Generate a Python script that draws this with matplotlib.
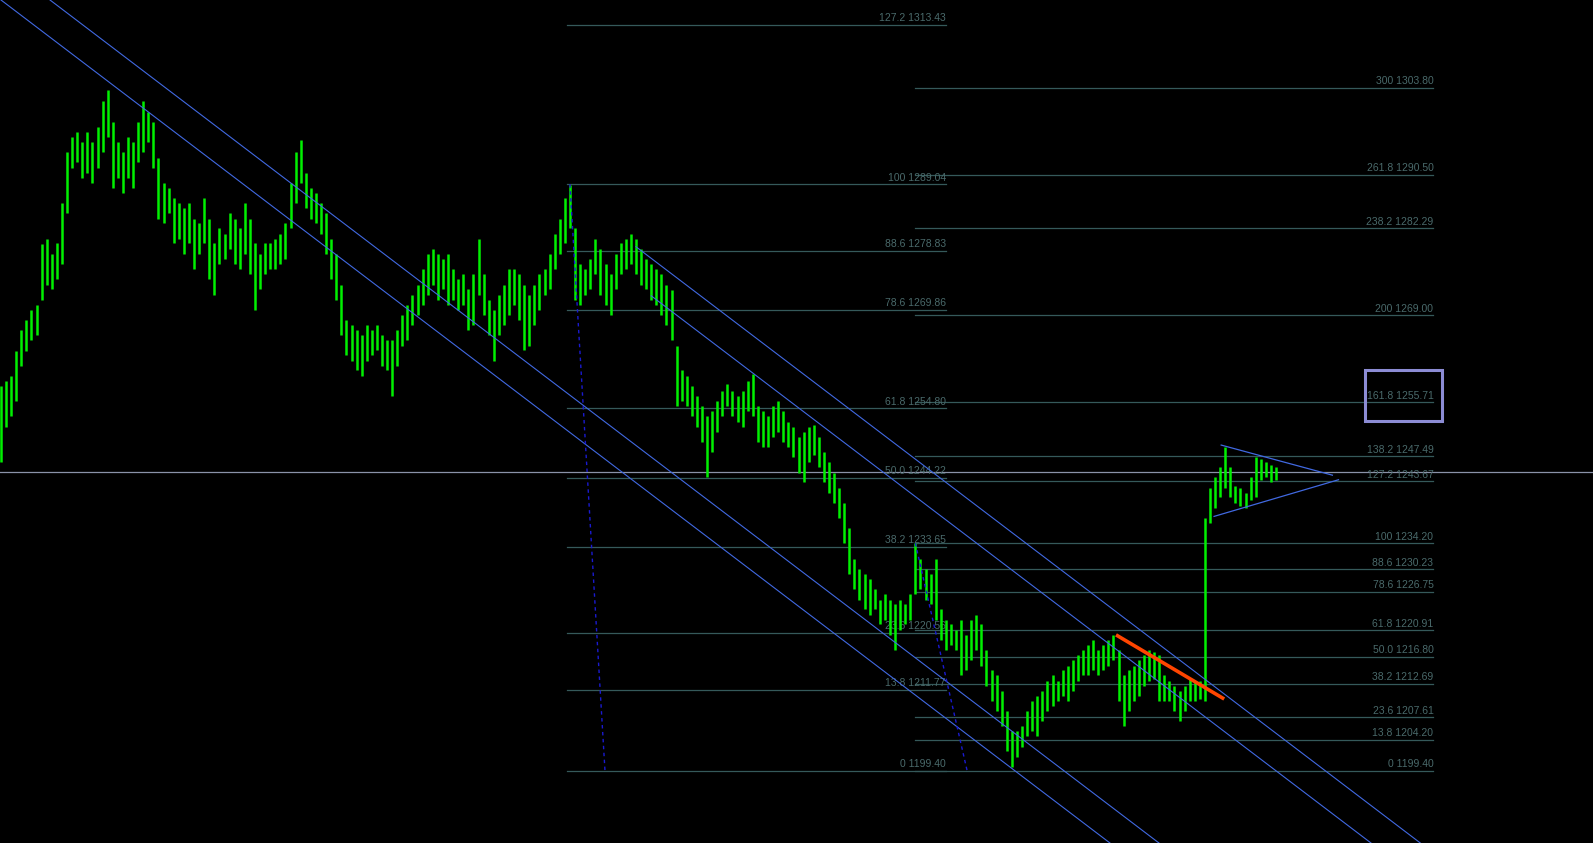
# 1. Import bibliotek
import matplotlib
matplotlib.use('Agg')
import matplotlib.pyplot as plt
from matplotlib.patches import Rectangle

# 2. Dane - slupki (high / low), kolejne swiece od lewej
highs = [
    1258.2, 1259.0, 1259.8, 1263.6, 1266.8, 1268.3, 1269.9, 1270.6, 1279.9, 1280.7,
    1278.4, 1280.0, 1286.2, 1293.9, 1296.2, 1297.0, 1295.5, 1297.0, 1295.5, 1297.8,
    1301.7, 1303.5, 1298.6, 1295.5, 1293.9, 1296.2, 1295.5, 1298.6, 1301.7, 1300.1,
    1298.6, 1293.1, 1289.3, 1288.5, 1287.0, 1286.2, 1285.4, 1286.2, 1283.8, 1283.1,
    1286.9, 1283.8, 1280.0, 1282.3, 1281.5, 1284.6, 1283.8, 1282.3, 1286.2, 1283.8,
    1280.0, 1278.4, 1280.0, 1280.0, 1280.7, 1281.5, 1283.1, 1289.3, 1293.9, 1295.8,
    1290.8, 1288.5, 1287.7, 1286.2, 1284.6, 1280.7, 1278.4, 1273.7, 1268.3, 1267.5,
    1266.8, 1266.0, 1267.5, 1266.8, 1267.5, 1266.0, 1265.2, 1265.2, 1266.8, 1269.1,
    1270.6, 1272.2, 1273.7, 1276.1, 1278.4, 1279.2, 1278.4, 1277.6, 1278.4, 1276.1,
    1274.5, 1275.3, 1273.0, 1275.3, 1280.7, 1275.3, 1271.4, 1269.9, 1272.2, 1273.7,
    1276.1, 1276.1, 1275.3, 1273.7, 1272.2, 1273.7, 1275.3, 1276.1, 1278.4, 1281.5,
    1283.8, 1286.9, 1288.9, 1282.3, 1276.9, 1276.1, 1277.6, 1280.7, 1279.2, 1276.9,
    1275.3, 1278.4, 1280.0, 1280.7, 1281.5, 1280.7, 1279.2, 1277.6, 1276.9, 1276.1,
    1275.3, 1273.7, 1272.9, 1264.4, 1260.6, 1259.8, 1258.2, 1256.7, 1255.1, 1253.6,
    1254.4, 1255.9, 1257.5, 1258.5, 1257.5, 1256.7, 1257.5, 1259.0, 1260.1, 1255.1,
    1254.4, 1253.6, 1255.1, 1255.9, 1254.4, 1252.8, 1252.0, 1250.5, 1251.2, 1252.0,
    1252.3, 1250.5, 1248.1, 1246.6, 1245.0, 1242.7, 1240.4, 1236.5, 1231.8, 1230.3,
    1229.5, 1228.7, 1227.2, 1225.6, 1226.4, 1225.6, 1224.9, 1225.6, 1224.9, 1226.4,
    1234.2, 1231.8, 1230.3, 1229.5, 1231.8, 1224.1, 1222.5, 1221.8, 1221.0, 1222.5,
    1220.2, 1222.5, 1223.3, 1221.8, 1217.9, 1214.8, 1214.0, 1211.7, 1208.6, 1205.5,
    1205.5, 1206.2, 1208.6, 1210.1, 1210.9, 1211.7, 1213.2, 1214.0, 1213.2, 1214.8,
    1215.5, 1216.3, 1217.1, 1217.9, 1218.6, 1219.4, 1217.9, 1218.6, 1219.4, 1220.2,
    1217.9, 1214.0, 1214.8, 1215.5, 1216.3, 1217.1, 1217.9, 1217.6, 1217.1, 1214.0,
    1213.2, 1212.4, 1211.7, 1212.4, 1213.5, 1213.2, 1213.2, 1238.0, 1242.7, 1244.3,
    1245.8, 1248.9, 1245.8, 1243.0, 1242.7, 1241.9, 1244.3, 1247.4, 1247.0, 1246.6,
    1246.1, 1245.8,
]
lows = [
    1246.6, 1252.0, 1253.6, 1255.9, 1261.3, 1263.6, 1265.2, 1266.0, 1271.4, 1273.7,
    1273.0, 1274.5, 1276.8, 1284.6, 1291.6, 1292.4, 1290.0, 1290.8, 1289.3, 1291.6,
    1293.9, 1296.2, 1288.5, 1290.0, 1287.7, 1290.0, 1288.5, 1292.4, 1293.9, 1295.5,
    1291.6, 1283.8, 1283.1, 1284.6, 1280.0, 1280.7, 1278.4, 1280.0, 1276.1, 1278.4,
    1280.0, 1274.5, 1272.2, 1276.9, 1277.6, 1279.2, 1276.9, 1276.1, 1278.4, 1275.3,
    1269.9, 1273.0, 1275.3, 1276.1, 1276.1, 1276.9, 1277.6, 1282.3, 1286.2, 1289.3,
    1285.4, 1283.8, 1283.1, 1281.5, 1278.4, 1274.5, 1271.4, 1266.0, 1262.9, 1262.1,
    1260.6, 1259.8, 1262.1, 1262.9, 1263.7, 1261.3, 1260.6, 1256.7, 1261.3, 1264.4,
    1265.2, 1267.5, 1269.1, 1270.6, 1272.2, 1273.7, 1271.4, 1273.0, 1270.6, 1271.4,
    1269.9, 1270.6, 1266.8, 1267.5, 1272.2, 1269.1, 1266.0, 1262.1, 1266.0, 1267.5,
    1269.1, 1270.6, 1268.3, 1263.7, 1264.4, 1267.5, 1269.9, 1272.2, 1273.0, 1276.1,
    1278.4, 1280.0, 1282.3, 1271.4, 1270.6, 1272.2, 1273.0, 1275.3, 1272.2, 1270.6,
    1269.1, 1273.0, 1275.3, 1276.1, 1276.9, 1275.3, 1273.7, 1273.0, 1271.4, 1270.6,
    1269.1, 1267.5, 1265.2, 1255.1, 1255.9, 1255.1, 1253.6, 1252.0, 1249.7, 1244.3,
    1248.2, 1251.2, 1253.6, 1255.1, 1253.6, 1252.8, 1252.0, 1254.4, 1253.6, 1249.7,
    1248.9, 1248.9, 1250.5, 1251.2, 1249.7, 1248.9, 1247.4, 1245.0, 1243.5, 1246.6,
    1247.7, 1245.8, 1243.5, 1241.9, 1240.4, 1238.0, 1234.2, 1229.5, 1227.2, 1225.6,
    1224.1, 1223.3, 1224.1, 1221.8, 1222.5, 1220.2, 1217.9, 1221.0, 1221.8, 1222.5,
    1226.4, 1227.2, 1225.6, 1224.9, 1222.5, 1219.4, 1217.9, 1218.6, 1217.9, 1214.0,
    1214.8, 1216.3, 1217.9, 1215.5, 1212.4, 1210.1, 1208.6, 1206.2, 1202.4, 1200.0,
    1201.6, 1203.1, 1204.7, 1205.5, 1204.7, 1207.0, 1208.6, 1209.3, 1210.1, 1210.9,
    1210.1, 1211.7, 1213.2, 1214.0, 1214.0, 1214.8, 1214.0, 1214.8, 1215.5, 1216.3,
    1210.1, 1206.2, 1208.6, 1210.1, 1210.9, 1212.4, 1213.2, 1213.5, 1210.1, 1210.1,
    1210.1, 1208.6, 1207.0, 1208.6, 1210.1, 1210.1, 1210.4, 1210.1, 1237.3, 1239.6,
    1241.2, 1242.7, 1241.2, 1240.4, 1239.9, 1239.6, 1240.8, 1241.2, 1243.9, 1244.3,
    1243.5, 1243.9,
]

# 3. Poziomy Fibonacciego (lewy i prawy obiekt)
fib_left_levels = ['0', '13.8', '23.6', '38.2', '50.0', '61.8', '78.6', '88.6', '100', '127.2']
fib_left_prices = [1199.40, 1211.77, 1220.56, 1233.65, 1244.22, 1254.80, 1269.86, 1278.83, 1289.04, 1313.43]
fib_left_range = (111.5, 186.0)

fib_right_levels = ['0', '13.8', '23.6', '38.2', '50.0', '61.8', '78.6', '88.6', '100',
                    '127.2', '138.2', '161.8', '200', '238.2', '261.8', '300']
fib_right_prices = [1199.40, 1204.20, 1207.61, 1212.69, 1216.80, 1220.91, 1226.75, 1230.23, 1234.20,
                    1243.67, 1247.49, 1255.71, 1269.00, 1282.29, 1290.50, 1303.80]
fib_right_range = (180.0, 282.0)

# 4. Linie trendu / kanaly (bar, cena) -> (bar, cena)
channel_lines = [
    ((0.0, 1317.2), (200.0, 1199.2)),
    ((9.65, 1317.2), (209.65, 1199.2)),
    ((125.0, 1279.5), (225.0, 1220.5)),
    ((128.0, 1272.0), (228.0, 1213.0)),
]
triangle_lines = [
    ((240.2, 1249.2), (262.1, 1244.6)),
    ((238.8, 1238.3), (263.3, 1243.9)),
]
orange_line = ((219.5, 1220.2), (240.8, 1210.4))
fib_anchor_lines = [
    ((112.0, 1289.04), (118.9, 1199.40)),
    ((180.0, 1234.20), (190.2, 1199.40)),
]
bid_price = 1245.14
box_bars = (268.6, 283.6)
box_prices = (1252.95, 1260.70)

# 5. Wykres
fig = plt.figure(figsize=(15.93, 8.43), dpi=100, facecolor='black')
ax = fig.add_axes([0, 0, 1, 1])
ax.set_facecolor('black')
ax.set_xlim(-0.2, 313.4)
ax.set_ylim(1188.4, 1317.2)
ax.axis('off')

fib_col = '#35595a'
txt_col = '#4a6a6b'
fnt = ['Liberation Sans Narrow', 'Liberation Sans', 'DejaVu Sans']

for lev, pr in zip(fib_left_levels, fib_left_prices):
    ax.plot(fib_left_range, [pr, pr], color=fib_col, lw=0.9, zorder=1)
    ax.annotate(f'{lev} {pr:.2f}', (fib_left_range[1], pr), xytext=(0, 1.2),
                textcoords='offset points', ha='right', va='bottom',
                color=txt_col, fontsize=7.5, family=fnt, zorder=2)

for lev, pr in zip(fib_right_levels, fib_right_prices):
    ax.plot(fib_right_range, [pr, pr], color=fib_col, lw=0.9, zorder=1)
    ax.annotate(f'{lev} {pr:.2f}', (fib_right_range[1], pr), xytext=(0, 1.2),
                textcoords='offset points', ha='right', va='bottom',
                color=txt_col, fontsize=7.5, family=fnt, zorder=2)

ax.axhline(bid_price, color='#8a92a8', lw=0.9, zorder=1.5)

# slupki
idx = list(range(len(highs)))
ax.vlines(idx, lows, highs, color='#00f000', lw=1.8, zorder=3)

# kanaly - przedluzone w prawo
for (x1, y1), (x2, y2) in channel_lines:
    k = (y2 - y1) / (x2 - x1)
    x_end = 400
    ax.plot([x1, x_end], [y1, y1 + k * (x_end - x1)], color='#4169e1', lw=0.8, zorder=4)

for (x1, y1), (x2, y2) in triangle_lines:
    ax.plot([x1, x2], [y1, y2], color='#4169e1', lw=0.9, zorder=4)

for (x1, y1), (x2, y2) in fib_anchor_lines:
    ax.plot([x1, x2], [y1, y2], color='#1a1ad0', lw=1.0, ls=(0, (2.5, 2.5)), zorder=4)

(ox1, oy1), (ox2, oy2) = orange_line
ax.plot([ox1, ox2], [oy1, oy2], color='#ff4500', lw=2.6, solid_capstyle='butt', zorder=5)

ax.add_patch(Rectangle((box_bars[0], box_prices[0]), box_bars[1] - box_bars[0],
                       box_prices[1] - box_prices[0], fill=False,
                       edgecolor='#8c8cd4', lw=2.2, zorder=5))

fig.savefig('out.png', dpi=100, facecolor='black')
